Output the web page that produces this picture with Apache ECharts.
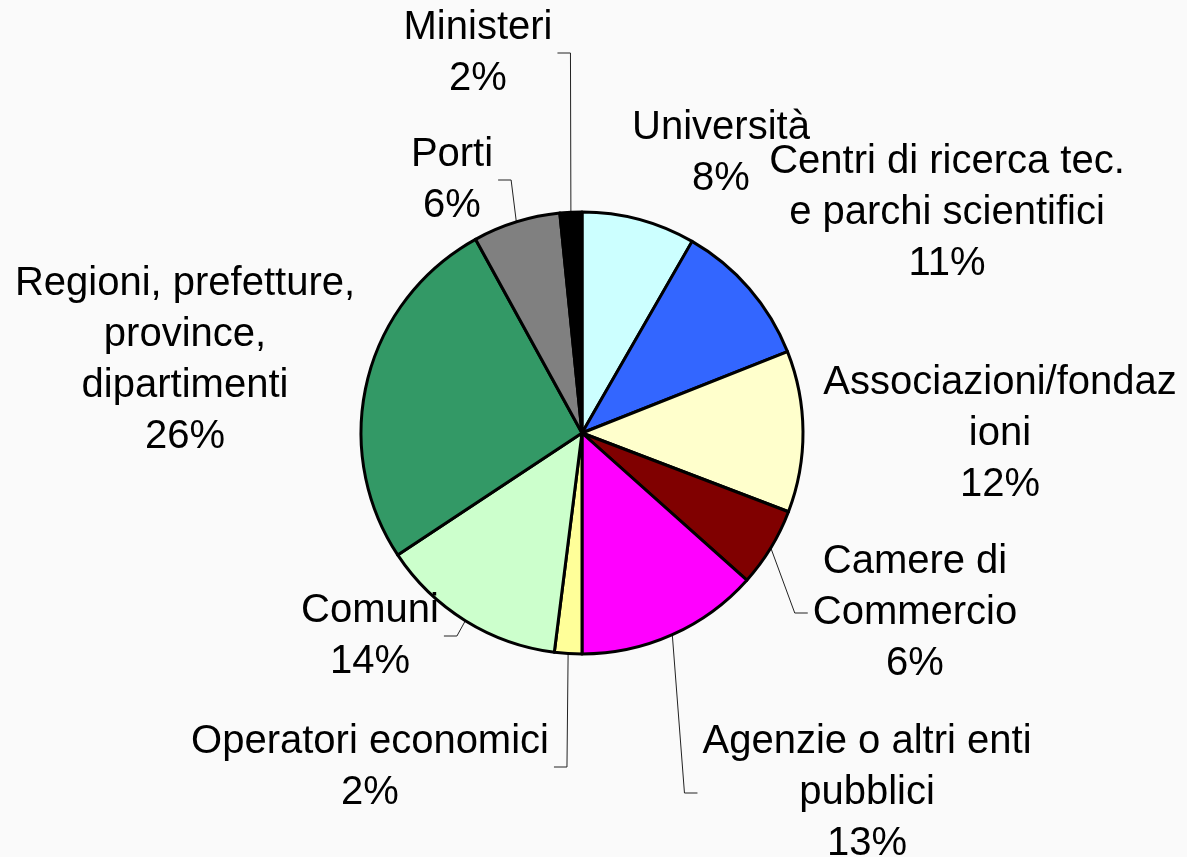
<!DOCTYPE html>
<html>
<head>
<meta charset="utf-8">
<title>Enti</title>
<script src="https://cdn.jsdelivr.net/npm/echarts@6/dist/echarts.min.js"></script>
<style>
  html, body { margin: 0; padding: 0; background: #fafafa; }
  #chart { width: 1187px; height: 857px; }
</style>
</head>
<body>
<div id="chart"></div>
<script>
const categories = [
  "Università",
  "Centri di ricerca tec.\ne parchi scientifici",
  "Associazioni/fondaz\nioni",
  "Camere di\nCommercio",
  "Agenzie o altri enti\npubblici",
  "Operatori economici",
  "Comuni",
  "Regioni, prefetture,\nprovince,\ndipartimenti",
  "Porti",
  "Ministeri"
];
const values = [8.3, 10.7, 11.8, 5.8, 13.4, 2.0, 13.7, 26.3, 6.4, 1.6];

const colors = ["#CCFFFF", "#3366FF", "#FFFFCC", "#800000", "#FF00FF",
  "#FFFF99", "#CCFFCC", "#339966", "#808080", "#000000"];
// Excel-style leader lines only on some labels
const withLine = [false, false, false, true, true, true, true, false, true, true];
// label block centres (px)
const labelPos = [[721, 153], [947, 213], [1000, 434], [915, 613], [867, 793],
  [370, 767], [370, 636], [185, 360], [452, 180], [478, 53]];

const chart = echarts.init(document.getElementById("chart"));

const option = {
  backgroundColor: "#fafafa",
  animation: false,
  series: [
    {
      type: "pie",
      center: [582, 433],
      radius: 221,
      startAngle: 90,
      clockwise: true,
      avoidLabelOverlap: false,
      percentPrecision: 0,
      itemStyle: {
        borderColor: "#000",
        borderWidth: 3
      },
      emphasis: { disabled: true },
      label: {
        show: true,
        position: "outside",
        formatter: "{b}\n{d}%",
        color: "#000",
        fontFamily: "Liberation Sans, Arial, sans-serif",
        fontSize: 40,
        lineHeight: 51
      },
      labelLine: {
        lineStyle: { color: "#222", width: 1 }
      },
      labelLayout: function (p) {
        const pos = labelPos[p.dataIndex];
        const out = { x: pos[0], y: pos[1], align: "center", verticalAlign: "middle" };
        const pts = p.labelLinePoints;
        if (withLine[p.dataIndex] && pts) {
          const p0 = pts[0];
          const side = pos[0] < p0[0] ? 1 : -1;
          const ex = pos[0] + side * (p.labelRect.width / 2 + 5);
          out.labelLinePoints = [p0, [ex + side * 13, pos[1]], [ex, pos[1]]];
        }
        return out;
      },
      data: categories.map(function (name, i) {
        return {
          name: name,
          value: values[i],
          itemStyle: { color: colors[i] },
          labelLine: { show: withLine[i] }
        };
      })
    }
  ]
};

chart.setOption(option);
</script>
</body>
</html>
